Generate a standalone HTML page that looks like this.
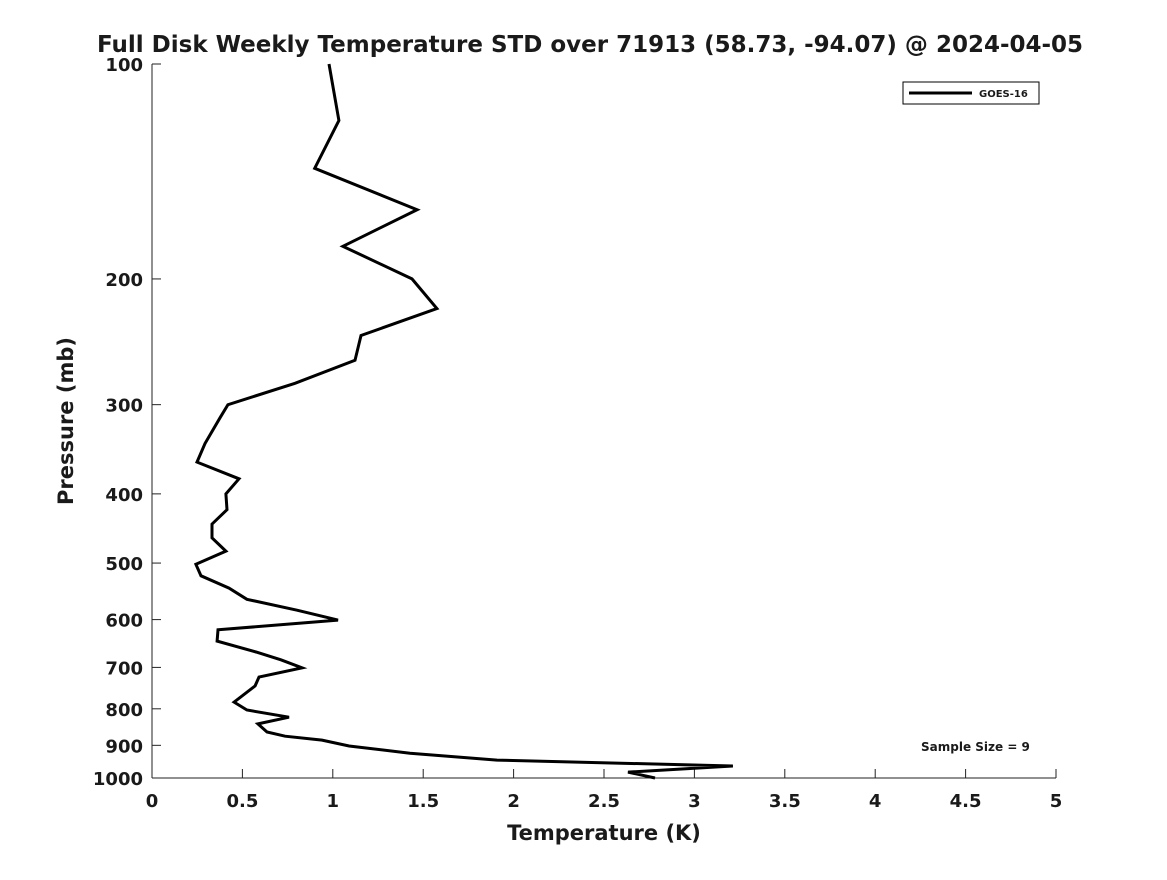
<!DOCTYPE html>
<html><head><meta charset="utf-8"><style>
html,body{margin:0;padding:0;background:#fff;}
svg text{font-family:"DejaVu Sans","Liberation Sans",sans-serif;font-weight:bold;fill:#1a1a1a;}
</style></head><body>
<svg id="chart" width="1167" height="875" xmlns="http://www.w3.org/2000/svg">
<rect width="1167" height="875" fill="#fff"/>
<text x="590" y="52" font-size="23" text-anchor="middle">Full Disk Weekly Temperature STD over 71913 (58.73, -94.07) @ 2024-04-05</text>
<g id="axes"></g>
<text x="604" y="840" font-size="21" text-anchor="middle">Temperature (K)</text>
<text transform="translate(73,421) rotate(-90)" font-size="21" text-anchor="middle">Pressure (mb)</text>
<g>
<rect x="903" y="82" width="136" height="22" fill="#fff" stroke="#000" stroke-width="1"/>
<line x1="909" y1="93" x2="972" y2="93" stroke="#000" stroke-width="3"/>
<text x="979" y="97" font-size="10">GOES-16</text>
</g>
<text x="921" y="751" font-size="12">Sample Size = 9</text>
</svg>
<script>
const temps = [0.979,1.034,0.90,1.466,1.056,1.438,1.576,1.156,1.123,0.791,0.42,0.376,0.293,0.249,0.481,0.409,0.415,0.332,0.332,0.409,0.243,0.271,0.426,0.525,0.802,1.029,0.365,0.36,0.575,0.713,0.83,0.592,0.57,0.454,0.525,0.758,0.586,0.636,0.736,0.94,1.09,1.427,1.908,3.213,2.633,2.782];
const pressures = [100,120,140,160,180,200,220,240,260,280,300,313,340,361,381,400,421,441,461,481,502,521,542,562,582,601,620,643,666,683,701,722,743,783,803,822,840,862,874,885,902,923,944,962,981,1000];
const xTicks = [0,0.5,1,1.5,2,2.5,3,3.5,4,4.5,5];
const xTickLabels = ["0","0.5","1","1.5","2","2.5","3","3.5","4","4.5","5"];
const yTicks = [100,200,300,400,500,600,700,800,900,1000];
const yTickLabels = ["100","200","300","400","500","600","700","800","900","1000"];

const L=152,R=1056,T=64,B=778;
function xs(v){return L+(v-0)/(5-0)*(R-L);}
function ys(p){return T+(Math.log10(p)-2)/1*(B-T);}
const NS="http://www.w3.org/2000/svg";
const svg=document.getElementById('chart');
const g=document.getElementById('axes');
function mk(tag,attrs,parent){const e=document.createElementNS(NS,tag);for(const k in attrs)e.setAttribute(k,attrs[k]);(parent||g).appendChild(e);return e;}
const xa=mk('line',{x1:L,y1:B,x2:R,y2:B,stroke:'#222','stroke-width':1});


const ya=mk('line',{x1:L,y1:T,x2:L,y2:B,stroke:'#222','stroke-width':1});


xTicks.forEach((v,i)=>{
  const t=mk('line',{x1:xs(v),y1:B,x2:xs(v),y2:B-9,stroke:'#222','stroke-width':1});
  
  
  const tx=mk('text',{x:xs(v),y:807,'font-size':18,'text-anchor':'middle'});
  
  
  tx.textContent=xTickLabels[i];
});
yTicks.forEach((p,i)=>{
  const t=mk('line',{x1:L,y1:ys(p),x2:L+9,y2:ys(p),stroke:'#222','stroke-width':1});
  
  
  const tx=mk('text',{x:143,y:ys(p)+7,'font-size':18,'text-anchor':'end'});
  
  
  tx.textContent=yTickLabels[i];
});
const pts=temps.map((v,i)=>xs(v).toFixed(1)+','+ys(pressures[i]).toFixed(1)).join(' ');
const line=mk('polyline',{points:pts,fill:'none',stroke:'#000','stroke-width':3,'stroke-linejoin':'miter'});


</script>
</body></html>
